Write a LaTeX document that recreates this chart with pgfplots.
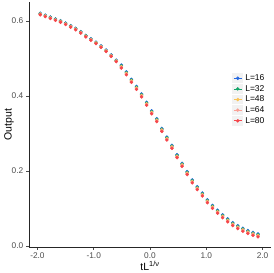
\documentclass[border=0pt]{standalone}
\usepackage{pgfplots}
\pgfplotsset{compat=1.18}
\usepackage{pgfplotstable}
\usepackage{fontspec}
\setmainfont{Liberation Sans}
\definecolor{cA}{RGB}{38,105,225}
\definecolor{cB}{RGB}{20,165,105}
\definecolor{cC}{RGB}{250,195,85}
\definecolor{cD}{RGB}{250,160,150}
\definecolor{cE}{RGB}{245,70,75}
\definecolor{tickgray}{RGB}{77,77,77}
\pgfplotstableread{
x y16 y32 y48 y64 y80
-1.95 .620 .619 .618 .617 .616
-1.86 .615 .614 .613 .612 .611
-1.77 .610 .609 .608 .607 .606
-1.68 .605 .604 .603 .602 .601
-1.59 .600 .599 .598 .597 .596
-1.50 .594 .593 .592 .591 .590
-1.41 .587 .586 .585 .584 .583
-1.32 .580 .579 .578 .577 .576
-1.23 .571 .570 .569 .568 .567
-1.14 .561 .560 .559 .558 .557
-1.05 .552 .551 .550 .549 .548
-0.96 .543 .542 .541 .540 .539
-0.87 .533 .532 .531 .530 .529
-0.78 .522 .521 .520 .519 .518
-0.69 .509 .508 .507 .506 .505
-0.60 .495 .494 .493 .492 .491
-0.51 .482 .480 .478 .476 .474
-0.42 .464 .462 .460 .458 .456
-0.33 .444 .442 .440 .438 .436
-0.24 .425 .423 .421 .419 .417
-0.15 .405 .403 .401 .399 .397
-0.06 .383 .381 .379 .377 .375
0.03 .360 .358 .356 .354 .352
0.12 .339 .337 .335 .333 .331
0.21 .313 .311 .309 .307 .305
0.30 .290 .288 .286 .284 .282
0.39 .268 .266 .264 .262 .260
0.48 .243 .241 .239 .237 .235
0.57 .220 .218 .216 .214 .212
0.66 .198 .196 .194 .192 .190
0.75 .176 .174 .172 .170 .168
0.84 .158 .156 .154 .152 .150
0.93 .141 .139 .137 .135 .133
1.02 .123 .121 .119 .117 .115
1.11 .108 .106 .104 .102 .100
1.20 .095 .093 .091 .089 .087
1.29 .083 .081 .079 .077 .075
1.38 .072 .070 .068 .066 .064
1.47 .062 .060 .058 .056 .054
1.56 .054 .052 .050 .048 .046
1.65 .047 .045 .043 .041 .039
1.74 .041 .039 .037 .035 .033
1.83 .036 .034 .032 .030 .028
1.92 .032 .030 .028 .026 .024
}\datatab
\begin{document}
\begin{tikzpicture}
\begin{axis}[
  scale only axis, width=242pt, height=245pt,
  xmin=-2.15, xmax=2.15, ymin=-0.003, ymax=0.65,
  axis x line*=bottom, axis y line*=left,
  axis line style={black!85, line width=0.6pt},
  tick align=outside, major tick length=2.75pt,
  tick style={black!70, line width=0.5pt},
  xtick={-2,-1,0,1,2}, ytick={0,0.2,0.4,0.6},
  /pgf/number format/assume math mode=true,
  /pgf/number format/fixed, /pgf/number format/fixed zerofill, /pgf/number format/precision=1,
  ticklabel style={font=\fontsize{8.3}{10}\selectfont, text=tickgray},
  xticklabel style={yshift=0.5pt},
  yticklabel style={xshift=0.5pt},
  xlabel={tL\textsuperscript{1/ν}},
  ylabel={Output},
  label style={font=\fontsize{10.5}{12}\selectfont, text=black},
  xlabel style={yshift=4pt},
  ylabel style={yshift=-9pt},
  legend style={at={(rel axis cs:0.835,0.717)}, anchor=north west, draw=none, fill=none,
    font=\fontsize{8.5}{9.5}\selectfont, row sep=-0.8pt, inner sep=1pt},
  legend cell align=left,
  legend image code/.code={
    \fill[black!5, draw=none] (0pt,-4.8pt) rectangle (11pt,4.8pt);
    \draw[#1, line width=0.6pt, mark=none] (1.5pt,0pt) -- (9.5pt,0pt);
    \path[#1] plot coordinates {(5.5pt,0pt)};
  },
  every axis plot/.append style={only marks, mark=*, mark size=1.5pt, mark options={draw=none, fill opacity=0.85}},
]
\addplot[color=cA, mark options={fill=cA}] table[x=x, y=y16] {\datatab};
\addlegendentry{L=16}
\addplot[color=cB, mark options={fill=cB}] table[x=x, y=y32] {\datatab};
\addlegendentry{L=32}
\addplot[color=cC, mark options={fill=cC}] table[x=x, y=y48] {\datatab};
\addlegendentry{L=48}
\addplot[color=cD, mark options={fill=cD}] table[x=x, y=y64] {\datatab};
\addlegendentry{L=64}
\addplot[color=cE, mark options={fill=cE}] table[x=x, y=y80] {\datatab};
\addlegendentry{L=80}
\end{axis}
\pgfresetboundingbox
\path (-29pt,-26pt) rectangle (244pt,247pt);
\end{tikzpicture}
\end{document}
